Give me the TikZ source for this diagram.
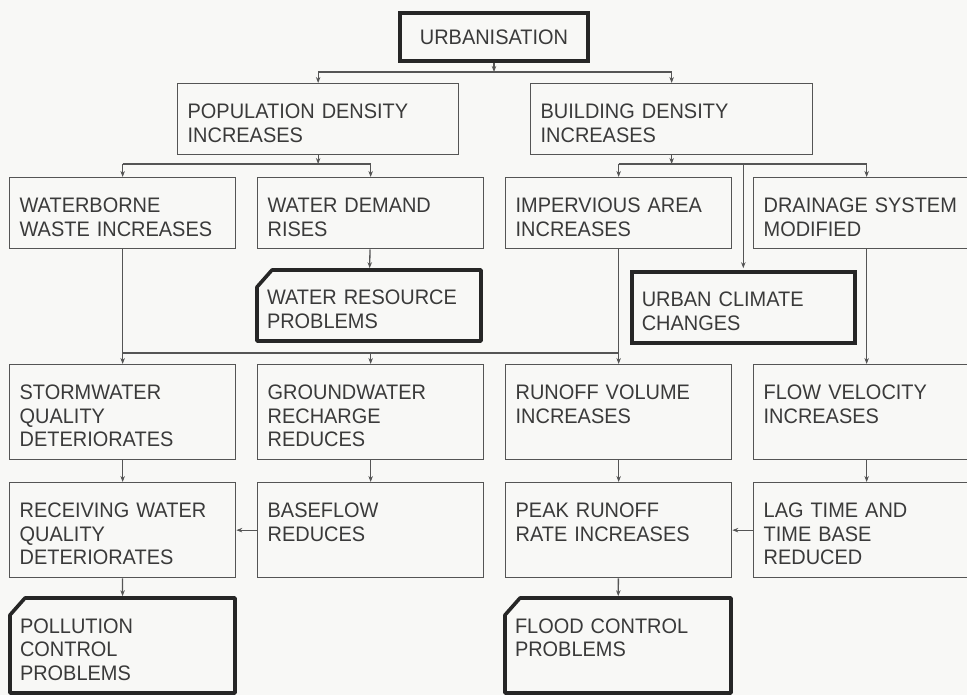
\documentclass[tikz,border=0pt]{standalone}
\usepackage{fontspec}
\setmainfont{Liberation Sans}[FakeStretch=0.95, WordSpace=2.5]
\usetikzlibrary{arrows.meta}
\definecolor{paper}{RGB}{248,248,246}
\definecolor{ink}{RGB}{58,58,58}
\definecolor{wire}{RGB}{85,85,85}
\newcommand{\cutframe}[1]{%
    \draw [frame] ([xshift=15pt]#1.north west) -- (#1.north east) -- (#1.south east)
        -- (#1.south west) -- ([yshift=-17pt]#1.north west) -- cycle;
}

\begin{document}
\begin{tikzpicture}[x=1pt, y=-1pt,
        every node/.style={font=\fontsize{21}{23.5}\selectfont, text=ink},
        box/.style={draw=wire, line width=1.3pt, anchor=north west, align=left,
            text width=206pt, inner xsep=10pt, inner ysep=20pt,
            text height=15pt, text depth=16pt},
        tall/.style={text depth=40pt},
        heavy/.style={draw=black!85, line width=3.6pt},
        cut/.style={draw=none, outer sep=0pt},
        frame/.style={draw=black!85, line width=3.6pt, line join=round},
        title/.style={draw=black!85, line width=3.6pt, minimum width=188pt,
            minimum height=48pt, inner sep=0pt},
        link/.style={draw=wire, line width=1.3pt},
        >={Stealth[length=6pt, width=4.5pt]}]
    \useasboundingbox (0,0) rectangle (967,695);
    \clip (0,0) rectangle (967,695);
    \fill [paper] (0,0) rectangle (967,695);

    \node [title] (urban) at (494,37) {URBANISATION};

    \node [box, text width=261pt] (pop) at (177,83) {POPULATION DENSITY\\INCREASES};
    \node [box, text width=262pt] (build) at (530,83) {BUILDING DENSITY\\INCREASES};

    \node [box] (waste) at (9,177) {WATERBORNE\\WASTE INCREASES};
    \node [box] (demand) at (257,177) {WATER DEMAND\\RISES};
    \node [box] (imperv) at (505,177) {IMPERVIOUS AREA\\INCREASES};
    \node [box] (drain) at (753,177) {DRAINAGE SYSTEM\\MODIFIED};

    \node [box, cut, text width=204pt] (wrp) at (257,270) {WATER RESOURCE\\PROBLEMS};
    \node [box, heavy, text width=203pt] (climate) at (630,270) {URBAN CLIMATE\\CHANGES};

    \node [box, tall] (storm) at (9,364) {STORMWATER\\QUALITY\\DETERIORATES};
    \node [box, tall] (ground) at (257,364) {GROUNDWATER\\RECHARGE\\REDUCES};
    \node [box, tall] (runoff) at (505,364) {RUNOFF VOLUME\\INCREASES};
    \node [box, tall] (flow) at (753,364) {FLOW VELOCITY\\INCREASES};

    \node [box, tall] (recv) at (9,482) {RECEIVING WATER\\QUALITY\\DETERIORATES};
    \node [box, tall] (base) at (257,482) {BASEFLOW\\REDUCES};
    \node [box, tall] (peak) at (505,482) {PEAK RUNOFF\\RATE INCREASES};
    \node [box, tall] (lag) at (753,482) {LAG TIME AND\\TIME BASE\\REDUCED};

    \node [box, tall, cut, text width=205pt] (poll) at (10,598) {POLLUTION\\CONTROL\\PROBLEMS};
    \node [box, tall, cut] (flood) at (505,598) {FLOOD CONTROL\\PROBLEMS};

    \cutframe{wrp}
    \cutframe{poll}
    \cutframe{flood}

    % junctions of the feeder lines
    \coordinate (ujoin) at (494,72);
    \coordinate (pjoin) at (0,164);
    \coordinate (bjoin) at (0,164);
    \coordinate (sjoin) at (0,353);

    \draw [link, ->] (urban) -- (ujoin);
    \draw [link] (ujoin -| pop) -- (ujoin -| build);
    \draw [link, ->] (ujoin -| pop) -- (pop);
    \draw [link, ->] (ujoin -| build) -- (build);

    \draw [link, ->] (pop) -- (pop |- pjoin);
    \draw [link] (waste |- pjoin) -- (demand |- pjoin);
    \draw [link, ->] (waste |- pjoin) -- (waste);
    \draw [link, ->] (demand |- pjoin) -- (demand);

    \draw [link, ->] (build) -- (build |- bjoin);
    \draw [link] (imperv |- bjoin) -- (drain |- bjoin);
    \draw [link, ->] (imperv |- bjoin) -- (imperv);
    \draw [link, ->] (drain |- bjoin) -- (drain);
    \draw [link, ->, shorten >=1.8pt] (climate |- bjoin) -- (climate);

    \draw [link, ->, shorten >=1.8pt] (demand) -- (wrp);

    \draw [link, ->] (waste) -- (storm);
    \draw [link, ->] (imperv) -- (runoff);
    \draw [link] (waste |- sjoin) -- (imperv |- sjoin);
    \draw [link, ->] (ground |- sjoin) -- (ground);
    \draw [link, ->] (drain) -- (flow);

    \draw [link, ->] (storm) -- (recv);
    \draw [link, ->] (ground) -- (base);
    \draw [link, ->] (runoff) -- (peak);
    \draw [link, ->] (flow) -- (lag);
    \draw [link, ->] (base) -- (recv);
    \draw [link, ->] (lag) -- (peak);

    \draw [link, ->, shorten >=1.8pt] (recv) -- (poll);
    \draw [link, ->, shorten >=1.8pt] (peak) -- (flood);
\end{tikzpicture}
\end{document}
